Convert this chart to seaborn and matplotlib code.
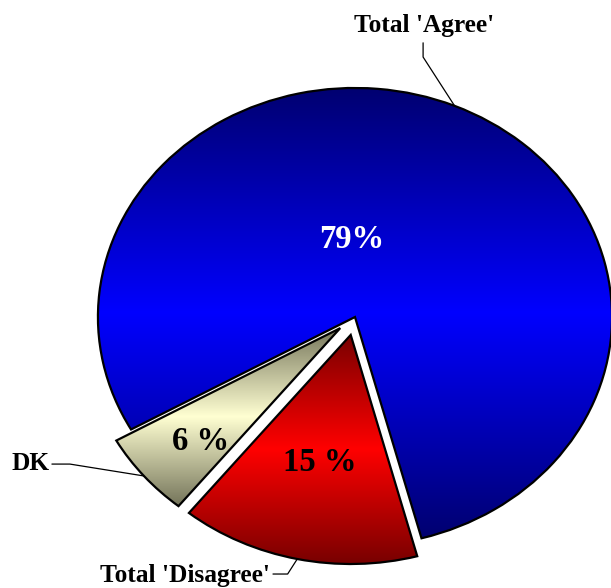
"""Opinion split pie chart: shaded, exploded slices with leader-line labels."""

import matplotlib
matplotlib.use("Agg")

import matplotlib.pyplot as plt
import numpy as np
import seaborn as sns

categories = ["Total 'Agree'", "DK", "Total 'Disagree'"]
shares = [79, 6, 15]
pct_labels = ["79%", "6 %", "15 %"]

# dark rim / bright centre of each slice's shading
dark_colors = ["#000070", "#74745a", "#780000"]
bright_colors = ["#0000ff", "#ffffd2", "#ff0000"]
pct_colors = ["white", "black", "black"]

explode = [0.0, 0.075, 0.08]

# label layout in axes data units (pie radius = 1)
name_pos = [(0.268, 1.246, "center"), (-1.19, -0.668, "right"), (-0.331, -1.155, "right")]
leader_start = [(0.265, 1.197), (-1.179, -0.642), (-0.319, -1.122)]
leader_elbow = [(0.265, 1.135), (-1.109, -0.642), (-0.262, -1.122)]
pct_pos = [(-0.012, 0.301), (-0.600, -0.581), (-0.136, -0.671)]

sns.set_theme(style="white")
plt.rcParams["font.family"] = ["Liberation Serif", "DejaVu Serif"]

fig = plt.figure(figsize=(6.11, 5.88), dpi=100)
ax = fig.add_axes([0, 0, 1, 1])

wedges, _ = ax.pie(
    shares,
    startangle=-75,
    explode=explode,
    counterclock=True,
    wedgeprops=dict(edgecolor="black", linewidth=1.6, facecolor="none"),
)

grad = np.linspace(0, 1, 256).reshape(-1, 1)
for w, dark, bright in zip(wedges, dark_colors, bright_colors):
    cmap = sns.blend_palette([dark, bright, dark], n_colors=256, as_cmap=True)
    bb = w.get_path().get_extents()
    im = ax.imshow(grad, cmap=cmap, extent=[bb.x0, bb.x1, bb.y0, bb.y1],
                   origin="lower", aspect="auto", interpolation="bicubic", zorder=0.9)
    im.set_clip_path(w)


def arc_point(w):
    a = np.deg2rad((w.theta1 + w.theta2) / 2)
    cx, cy = w.center
    return cx + w.r * np.cos(a), cy + w.r * np.sin(a)


for w, name, (tx, ty, ha), p0, p1 in zip(wedges, categories, name_pos, leader_start, leader_elbow):
    ax.text(tx, ty, name, ha=ha, va="baseline", fontsize=18.3, fontweight="bold", color="black")
    px, py = arc_point(w)
    ax.plot([p0[0], p1[0], px], [p0[1], p1[1], py], color="black", lw=0.9, zorder=3)

for lab, (x, y), c in zip(pct_labels, pct_pos, pct_colors):
    ax.text(x, y, lab, ha="center", va="baseline", fontsize=23.5, fontweight="bold", color=c, zorder=4)

ax.set_xlim(-1.381, 0.996)
ax.set_ylim(-1.183, 1.384)
ax.set_aspect("auto")
ax.axis("off")

plt.savefig("out.png", dpi=100)
plt.close()
